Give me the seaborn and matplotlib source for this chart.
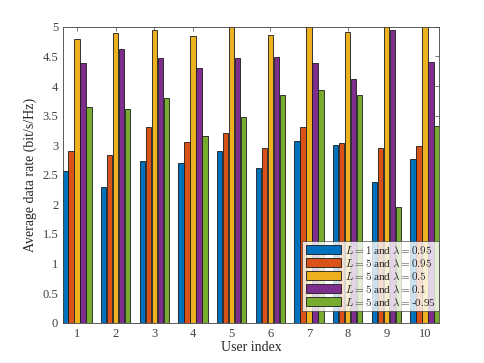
import pandas as pd
import numpy as np
import seaborn as sns
import matplotlib.pyplot as plt

# data (values above 5 are clipped by the axis)
users = [1, 2, 3, 4, 5, 6, 7, 8, 9, 10]
series = [r'$L=1$ and $\lambda=0.95$', r'$L=5$ and $\lambda=0.95$',
          r'$L=5$ and $\lambda=0.5$', r'$L=5$ and $\lambda=0.1$',
          r'$L=5$ and $\lambda=$-0.95']
l1_095 = [2.57, 2.30, 2.74, 2.70, 2.91, 2.61, 3.07, 3.01, 2.38, 2.77]
l5_095 = [2.91, 2.84, 3.30, 3.06, 3.20, 2.95, 3.30, 3.04, 2.96, 2.98]
l5_05 = [4.79, 4.89, 4.95, 4.84, 5.30, 4.87, 5.40, 4.92, 5.20, 5.50]
l5_01 = [4.39, 4.63, 4.47, 4.31, 4.47, 4.49, 4.39, 4.12, 4.94, 4.41]
l5_m095 = [3.64, 3.61, 3.80, 3.15, 3.48, 3.85, 3.93, 3.85, 1.95, 3.32]
colors = ['#0072BD', '#D95319', '#EDB120', '#7E2F8E', '#77AC30']

rows = []
for name, vals in zip(series, [l1_095, l5_095, l5_05, l5_01, l5_m095]):
    for u, v in zip(users, vals):
        rows.append({'user': u, 'series': name, 'rate': v})
df = pd.DataFrame(rows)

sns.set_style('white')
plt.rcParams['font.family'] = ['Liberation Serif', 'DejaVu Serif']
plt.rcParams['mathtext.fontset'] = 'cm'

fig = plt.figure(figsize=(4.85, 3.63), dpi=100)
ax = fig.add_axes([0.13, 0.111, 0.775, 0.815])
sns.barplot(data=df, x='user', y='rate', hue='series', palette=colors,
            saturation=1, width=0.78, gap=0.12, edgecolor='#1a1a1a',
            linewidth=0.6, errorbar=None, ax=ax)

ax.set_ylim(0, 5)
ax.set_xlim(-0.36, 9.36)
ax.set_yticks(np.arange(0, 5.01, 0.5))
ax.set_yticklabels(['0', '0.5', '1', '1.5', '2', '2.5', '3', '3.5', '4', '4.5', '5'])
ax.tick_params(direction='in', length=3, width=0.5, colors='#404040',
               labelsize=9, top=True, right=True, labelcolor='#404040')
for s in ax.spines.values():
    s.set_color('#404040')
    s.set_linewidth(0.6)
ax.set_xlabel('User index', fontsize=10, color='#262626', labelpad=1)
ax.set_ylabel('Average data rate (bit/s/Hz)', fontsize=10, color='#262626')

leg = ax.legend(loc='lower right', bbox_to_anchor=(1.0, 0.04), fontsize=8,
                frameon=True, fancybox=False, edgecolor='#262626',
                handlelength=3.2, handleheight=0.9, borderpad=0.3,
                labelspacing=0.15, handletextpad=0.3, borderaxespad=0)
leg.get_frame().set_linewidth(0.5)

plt.savefig('out.png', dpi=100)
